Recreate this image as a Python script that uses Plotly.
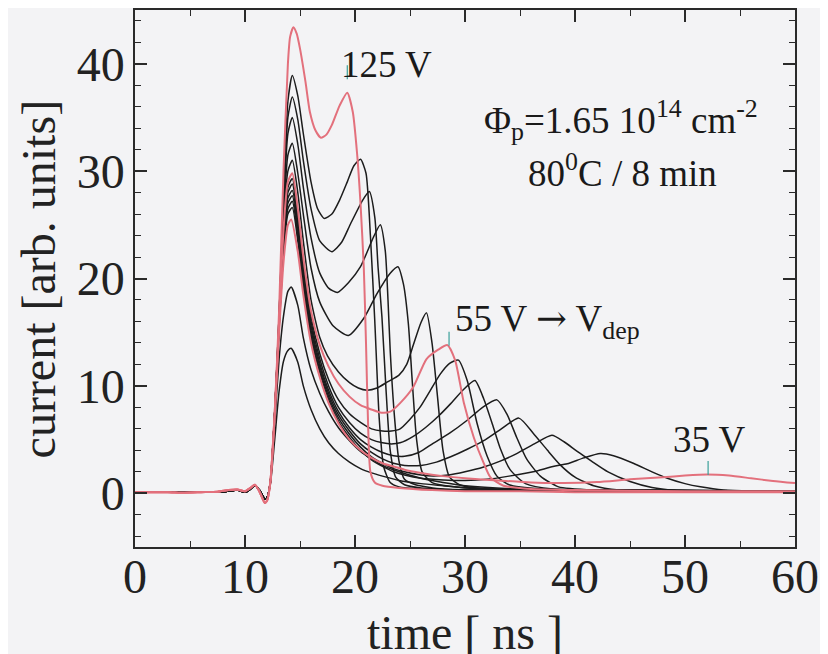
import plotly.graph_objects as go

# time axis pieces shared by every trace [ns]
t_pre = [0.0, 1.5, 3.0, 4.5, 6.0, 7.5, 8.5, 9.3, 10.0, 10.5, 10.9, 11.3, 11.8, 12.0]
i_pre_black = [0.1, 0.15, 0.1, 0.1, 0.15, 0.1, 0.2, 0.3, 0.1, 0.4, 0.75, 0.3, -0.5, -0.4]
i_pre_red = [0.1, 0.1, 0.1, 0.05, 0.1, 0.15, 0.3, 0.35, 0.2, 0.5, 0.8, 0.2, -0.9, -0.7]
t_rise = [12.3, 12.7, 13.1, 13.5, 13.9]

# 125 V (red)
rise_125 = [1.0, 7.5, 17.0, 30.0, 40.0]
t_125 = [14.1, 14.4, 14.7, 15.0, 15.5, 15.9, 16.4, 16.9, 17.4, 17.9, 18.6, 19.3, 19.8, 20.2, 20.5,
         20.8, 21.0, 21.2, 21.4, 21.8, 22.5, 24, 27, 30, 35, 40, 50, 60]
i_125 = [42.5, 43.4, 42.8, 41.4, 38.3, 35.5, 33.8, 33.1, 33.4, 34.3, 36.1, 37.3, 35.5, 31.5, 27.0,
         21.0, 14.0, 6.0, 2.0, 1.0, 0.7, 0.5, 0.3, 0.2, 0.2, 0.1, 0.1, 0.1]

# intermediate voltages (black)
rise_c2 = [1.0, 7.5, 16.5, 27.5, 36.5]
t_c2 = [14.3, 14.8, 15.3, 16.0, 16.6, 17.2, 17.9, 18.6, 19.3, 19.9, 20.5, 21.0, 21.4, 21.8, 22.2,
        22.6, 23.2, 24, 26, 30, 40, 60]
i_c2 = [38.9, 37.0, 33.5, 29.0, 26.5, 25.6, 26.0, 27.3, 29.0, 30.5, 31.1, 29.8, 24.0, 16.0, 7.0,
        2.5, 1.0, 0.6, 0.4, 0.3, 0.2, 0.2]

rise_c3 = [1.0, 7.5, 16.5, 27.0, 35.0]
t_c3 = [14.3, 14.8, 15.3, 16.0, 16.8, 17.9, 18.8, 19.6, 20.7, 21.3, 21.8, 22.1, 22.45, 22.8, 23.2,
        23.7, 24.5, 26, 30, 40, 60]
i_c3 = [36.9, 34.8, 31.0, 26.5, 23.5, 22.5, 23.4, 25.1, 27.3, 28.1, 25.7, 21.0, 16.4, 10.0, 4.0,
        1.5, 0.8, 0.5, 0.3, 0.2, 0.2]

rise_c4 = [1.0, 7.5, 16.5, 26.5, 33.5]
t_c4 = [14.3, 14.8, 15.3, 16.0, 16.8, 17.6, 18.4, 19.4, 20.5, 21.7, 22.3, 22.75, 23.0, 23.2, 23.6,
        24.0, 24.5, 25.5, 28, 32, 40, 60]
i_c4 = [35.0, 32.5, 28.5, 23.8, 20.5, 19.1, 18.7, 19.6, 21.1, 23.9, 25.0, 22.6, 18.0, 13.3, 7.0,
        3.0, 1.3, 0.8, 0.4, 0.3, 0.2, 0.2]

rise_c5 = [1.0, 7.5, 16.0, 25.5, 31.5]
t_c5 = [14.3, 14.8, 15.3, 16.0, 16.8, 18.0, 19.4, 20.8, 22.0, 23.2, 23.9, 24.4, 24.85, 25.2, 25.6,
        26.1, 27, 29, 33, 40, 60]
i_c5 = [32.6, 29.8, 26.0, 21.0, 17.8, 15.6, 14.7, 16.3, 18.6, 20.5, 21.1, 19.5, 15.8, 10.5, 5.0,
        2.0, 1.0, 0.6, 0.4, 0.25, 0.2]

rise_c6 = [1.0, 7.5, 16.0, 25.0, 30.0]
t_c6 = [14.3, 14.8, 15.3, 16.0, 16.8, 17.5, 18.5, 19.5, 20.3, 21.1, 22.0, 23.0, 24.0, 24.7, 25.3,
        26.0, 26.5, 27.0, 27.5, 28.0, 28.6, 29.5, 31, 35, 45, 60]
i_c6 = [31.0, 28.0, 23.5, 18.0, 14.5, 12.8, 11.3, 10.3, 9.8, 9.6, 9.8, 10.4, 11.0, 12.0, 13.8,
        15.9, 16.8, 14.0, 9.0, 4.0, 1.5, 0.8, 0.5, 0.3, 0.2, 0.2]

# 55 V (red)
rise_55 = [1.0, 7.5, 16.0, 24.5, 29.0]
t_55 = [14.3, 14.8, 15.3, 16.0, 16.8, 17.6, 18.5, 19.5, 20.5, 21.5, 22.4, 23.2, 24.1, 25.3, 26.5,
        27.6, 28.4, 29.1, 29.9, 30.8, 31.7, 32.3, 33.5, 36, 40, 50, 60]
i_55 = [29.8, 26.5, 22.0, 17.0, 13.8, 11.8, 10.2, 9.0, 8.2, 7.8, 7.5, 7.6, 8.4, 9.9, 12.5,
        13.4, 13.8, 12.4, 8.4, 5.2, 2.8, 1.5, 0.7, 0.4, 0.3, 0.2, 0.2]

rise_c8 = [1.0, 7.5, 16.0, 24.0, 28.5]
t_c8 = [14.3, 14.8, 15.3, 16.0, 16.8, 17.6, 18.5, 19.5, 20.5, 21.5, 22.5, 23.3, 24.1, 25.0, 25.9,
        26.8, 27.75, 28.6, 29.4, 30.2, 31.1, 32.0, 32.9, 34, 37, 45, 60]
i_c8 = [29.3, 26.0, 21.5, 16.5, 13.0, 10.6, 8.7, 7.4, 6.6, 6.0, 5.8, 5.8, 6.0, 6.9, 8.0,
        9.5, 11.1, 12.1, 12.4, 10.5, 6.5, 3.5, 1.6, 0.8, 0.4, 0.3, 0.2]

rise_c9 = [1.0, 7.5, 15.8, 23.5, 28.0]
t_c9 = [14.3, 14.8, 15.3, 16.0, 16.8, 17.6, 18.5, 19.5, 20.5, 21.5, 22.5, 23.3, 24.1, 25.3, 26.5,
        27.6, 28.7, 29.8, 30.9, 31.7, 32.5, 33.2, 34.1, 35.5, 38, 45, 60]
i_c9 = [28.8, 25.5, 21.0, 16.0, 12.5, 10.0, 8.0, 6.6, 5.6, 5.0, 4.7, 4.6, 4.7, 5.3, 6.2,
        7.2, 8.35, 9.6, 10.5, 8.8, 6.4, 4.2, 2.2, 0.9, 0.4, 0.3, 0.2]

rise_c10 = [1.0, 7.5, 15.8, 23.2, 27.5]
t_c10 = [14.3, 14.8, 15.3, 16.0, 16.8, 17.6, 18.5, 19.5, 20.5, 21.5, 22.5, 23.5, 24.5, 25.8, 27.1,
         28.6, 30.2, 31.6, 32.9, 33.8, 34.7, 35.6, 36.85, 38.5, 42, 50, 60]
i_c10 = [28.2, 25.0, 20.5, 15.6, 12.1, 9.6, 7.6, 6.1, 5.0, 4.3, 3.8, 3.5, 3.45, 3.8, 4.65,
         5.6, 6.8, 8.0, 8.7, 7.4, 5.2, 3.2, 1.6, 0.6, 0.3, 0.2, 0.2]

rise_c11 = [1.0, 7.4, 15.6, 23.0, 27.0]
t_c11 = [14.3, 14.8, 15.3, 16.0, 16.8, 17.6, 18.5, 19.5, 20.5, 21.5, 22.5, 23.5, 24.5, 26.0, 27.4,
         28.7, 30.2, 31.7, 33.3, 34.9, 36.2, 37.5, 38.7, 40.0, 41.7, 44, 50, 60]
i_c11 = [27.7, 24.5, 20.0, 15.2, 11.8, 9.3, 7.3, 5.8, 4.6, 3.8, 3.2, 2.8, 2.6, 2.6, 2.9,
         3.4, 4.1, 4.9, 6.0, 7.0, 5.6, 4.0, 2.6, 1.5, 0.7, 0.3, 0.2, 0.2]

rise_c12 = [1.0, 7.4, 15.5, 22.7, 26.5]
t_c12 = [14.3, 14.8, 15.3, 16.0, 16.8, 17.6, 18.5, 19.5, 20.5, 21.5, 22.5, 23.5, 24.5, 26.0, 27.1,
         28.5, 30.0, 31.7, 33.2, 34.7, 36.3, 37.9, 39.0, 40.2, 41.5, 43.0, 45.0, 47.0, 49.0, 53, 60]
i_c12 = [27.2, 24.0, 19.6, 14.8, 11.5, 9.0, 7.0, 5.5, 4.3, 3.4, 2.8, 2.3, 2.0, 1.7, 1.6,
         1.7, 2.0, 2.45, 3.0, 3.7, 4.6, 5.4, 4.8, 3.9, 3.0, 2.0, 1.1, 0.55, 0.3, 0.2, 0.2]

rise_c13 = [1.0, 7.3, 15.3, 22.3, 26.0]
t_c13 = [14.3, 14.8, 15.3, 16.0, 16.8, 17.6, 18.5, 19.5, 20.5, 21.5, 22.5, 23.5, 24.5, 26.0, 28.0,
         30.0, 32.0, 34.0, 36.2, 38.0, 39.3, 40.8, 42.3, 43.5, 45.3, 47.0, 48.4, 50.0, 51.4, 53.5, 56, 60]
i_c13 = [26.6, 23.5, 19.2, 14.5, 11.2, 8.7, 6.7, 5.2, 4.0, 3.1, 2.5, 2.0, 1.7, 1.4, 1.25,
         1.2, 1.3, 1.6, 2.0, 2.5, 2.75, 3.3, 3.7, 3.5, 2.8, 2.0, 1.4, 0.9, 0.6, 0.3, 0.2, 0.2]

# 35 V (red)
rise_35 = [1.0, 7.2, 15.0, 21.5, 25.0]
t_35 = [14.2, 14.8, 15.3, 16.0, 16.8, 17.6, 18.5, 19.5, 20.5, 21.5, 22.5, 23.5, 24.5, 26, 28,
        30, 33, 36, 39, 42, 45, 48, 50, 52, 54, 56, 58, 60]
i_35 = [25.5, 22.5, 18.5, 14.0, 10.8, 8.4, 6.5, 5.0, 4.0, 3.3, 2.8, 2.5, 2.2, 1.9, 1.6,
        1.4, 1.2, 1.0, 0.95, 1.05, 1.3, 1.5, 1.65, 1.75, 1.65, 1.4, 1.15, 0.95]

# lowest voltages (black)
rise_c15 = [0.9, 6.5, 12.5, 16.5, 18.8]
t_c15 = [14.2, 14.8, 15.3, 16.0, 16.8, 17.6, 18.5, 19.5, 20.5, 21.5, 22.5, 24, 26, 28, 30, 35, 45, 60]
i_c15 = [19.2, 17.5, 14.5, 11.5, 9.3, 7.6, 6.1, 4.9, 3.9, 3.2, 2.6, 2.0, 1.4, 1.0, 0.7, 0.4, 0.3, 0.2]

rise_c16 = [0.8, 5.0, 9.5, 12.3, 13.3]
t_c16 = [14.2, 14.8, 15.3, 16.0, 16.8, 17.6, 18.5, 19.5, 20.5, 21.5, 22.5, 24, 26, 28, 30, 35, 45, 60]
i_c16 = [13.5, 12.2, 10.0, 7.8, 6.0, 4.7, 3.7, 2.9, 2.3, 1.9, 1.6, 1.2, 0.9, 0.7, 0.5, 0.3, 0.2, 0.2]

# small teal marks above the labelled peaks
mark_t = [19.3, 28.55, 52.1]
mark_i = [39.2, 14.4, 2.35]

BLACK = "#1c1c1c"
RED = "#e3707c"
FONT = "Liberation Serif"

curves = [
    (rise_c16, t_c16, i_c16, False),
    (rise_c15, t_c15, i_c15, False),
    (rise_c13, t_c13, i_c13, False),
    (rise_c12, t_c12, i_c12, False),
    (rise_c11, t_c11, i_c11, False),
    (rise_c10, t_c10, i_c10, False),
    (rise_c9, t_c9, i_c9, False),
    (rise_c8, t_c8, i_c8, False),
    (rise_c6, t_c6, i_c6, False),
    (rise_c5, t_c5, i_c5, False),
    (rise_c4, t_c4, i_c4, False),
    (rise_c3, t_c3, i_c3, False),
    (rise_c2, t_c2, i_c2, False),
    (rise_35, t_35, i_35, True),
    (rise_55, t_55, i_55, True),
    (rise_125, t_125, i_125, True),
]

fig = go.Figure()
for rise, t, i, red in curves:
    pre = i_pre_red if red else i_pre_black
    fig.add_trace(go.Scatter(
        x=t_pre + t_rise + t, y=pre + rise + i, mode="lines",
        line=dict(color=RED if red else BLACK, width=2.0 if red else 1.5,
                  shape="spline", smoothing=0.6),
        showlegend=False, hoverinfo="skip"))

fig.add_trace(go.Scatter(
    x=mark_t, y=mark_i, mode="markers",
    marker=dict(symbol="line-ns", size=10, line=dict(color="#3a9f9a", width=1.2)),
    showlegend=False, hoverinfo="skip"))

axis_common = dict(
    showline=True, linewidth=1.5, linecolor="#2a2a2a", mirror="allticks",
    ticks="inside", ticklen=12, tickwidth=1.5, tickcolor="#2a2a2a",
    showgrid=False, zeroline=False, automargin=False,
    tickfont=dict(family=FONT, size=48, color="#222"),
)
fig.update_xaxes(range=[0, 60], tick0=0, dtick=10, ticklabelstandoff=-13,
                 minor=dict(dtick=5, ticks="inside", ticklen=6, tickwidth=1.2, tickcolor="#2a2a2a"),
                 **axis_common)
fig.update_yaxes(range=[-5, 45], tick0=0, dtick=10, ticklabelstandoff=-1,
                 minor=dict(dtick=2, ticks="inside", ticklen=6, tickwidth=1.2, tickcolor="#2a2a2a"),
                 **axis_common)

ann_font = dict(family=FONT, size=37, color="#1a1a1a")
annotations = [
    dict(x=22.9, y=39.9, text="125 V"),
    dict(x=44.2, y=34.8, text="Φ<sub>p</sub>=1.65 10<sup>14</sup> cm<sup>-2</sup>"),
    dict(x=44.3, y=30.1, text="80<sup>0</sup>C / 8 min"),
    dict(x=37.5, y=16.0,
         text="55 V <span style='font-family:DejaVu Serif'>→</span> V<sub>dep</sub>"),
    dict(x=52.2, y=5.0, text="35 V"),
]
for a in annotations:
    fig.add_annotation(xref="x", yref="y", showarrow=False, font=ann_font,
                       xanchor="center", yanchor="middle", **a)

fig.add_annotation(xref="paper", yref="paper", x=0.5, y=-0.16, showarrow=False,
                   text="time [ ns ]", font=dict(family=FONT, size=48, color="#222"),
                   xanchor="center", yanchor="middle")
fig.add_annotation(xref="paper", yref="paper", x=-0.1456, y=0.5, showarrow=False,
                   text="current [arb. units]", textangle=-90,
                   font=dict(family=FONT, size=48, color="#222"),
                   xanchor="center", yanchor="middle")

# the page body adds an 8 px offset, so margins are shifted to compensate
fig.update_layout(
    width=828, height=654,
    margin=dict(l=127, r=41, t=2, b=115, autoexpand=False),
    paper_bgcolor="#f3f3f5", plot_bgcolor="#f3f3f5",
    font=dict(family=FONT),
)

fig.write_html("out.html")
